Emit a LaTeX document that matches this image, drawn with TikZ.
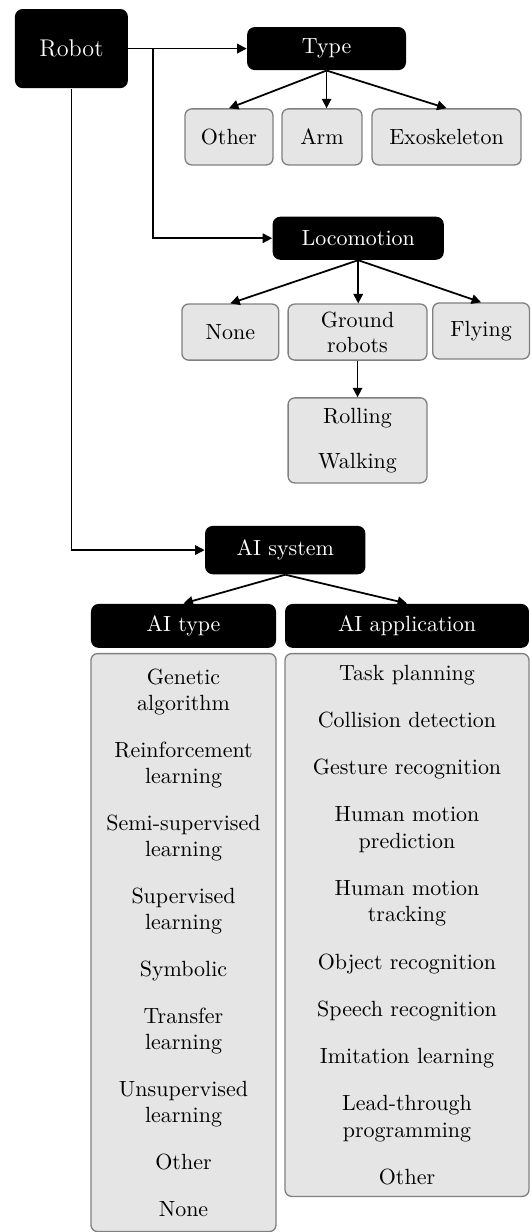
\documentclass[tikz,border=0pt]{standalone}
\usetikzlibrary{arrows.meta}

\tikzset{
  head/.style={fill=black, text=white, rounded corners=3.5pt, inner sep=1pt},
  leaf/.style={fill=gray!20, draw=gray, semithick, rounded corners=3pt,
               align=center, inner sep=1pt},
  link/.style={-{Triangle[length=4.3pt,width=4.3pt]}, thick},
}

\begin{document}
\begin{tikzpicture}[x=1pt,y=-1pt]
\useasboundingbox (0,0) rectangle (241.6,560.6);

\node[head, minimum width=51.4pt, minimum height=36pt] (robot) at (32.5,22.1)
     {\fontsize{11}{13}\selectfont Robot};
\node[head, minimum width=72.3pt, minimum height=19.6pt] (type) at (148.6,22.1) {Type};
\node[leaf, minimum width=40pt, minimum height=25.5pt] (other) at (104.2,62.3) {Other};
\node[leaf, minimum width=36.4pt, minimum height=25.5pt] (arm) at (146.5,62.3) {Arm};
\node[leaf, minimum width=67.8pt, minimum height=25.5pt] (exo) at (203.2,62.3) {Exoskeleton};

\node[head, minimum width=77.9pt, minimum height=19.6pt] (loco) at (163.0,108.4) {Locomotion};
\node[leaf, minimum width=44pt, minimum height=25.5pt] (none) at (104.8,151.1) {None};
\node[leaf, minimum width=63.2pt, minimum height=25.5pt] (ground) at (162.7,151.1)
     {Ground\\[-0.6pt]robots};
\node[leaf, minimum width=44pt, minimum height=25.5pt] (flying) at (218.9,150.6) {Flying};
\node[leaf, minimum width=63.2pt, minimum height=38.7pt] (rolling) at (162.7,200.4)
     {Rolling\\[8.5pt]Walking};

\node[head, minimum width=73pt, minimum height=22pt] (aisys) at (129.8,250.3) {AI system};
\node[head, minimum width=84.2pt, minimum height=20pt] (aitype) at (83.5,284.8) {AI type};
\node[head, minimum width=111pt, minimum height=20pt] (aiapp) at (185.2,284.8) {AI application};

\node[leaf, anchor=north, minimum width=84.2pt, minimum height=263pt] (typelist) at (83.5,297.1)
     {Genetic\\algorithm\\[9.25pt]
      Reinforcement\\learning\\[9.25pt]
      Semi-supervised\\learning\\[9.25pt]
      Supervised\\learning\\[9.25pt]
      Symbolic\\[9.25pt]
      Transfer\\learning\\[9.25pt]
      Unsupervised\\learning\\[9.25pt]
      Other\\[9.25pt]
      None};
\node[leaf, anchor=north, minimum width=111pt, minimum height=247pt] (applist) at (185.2,297.1)
     {Task planning\\[9.5pt]
      Collision detection\\[9.5pt]
      Gesture recognition\\[9.5pt]
      Human motion\\prediction\\[9.5pt]
      Human motion\\tracking\\[9.5pt]
      Object recognition\\[9.5pt]
      Speech recognition\\[9.5pt]
      Imitation learning\\[9.5pt]
      Lead-through\\programming\\[9.5pt]
      Other};

\coordinate (split) at (69.6,22.1);

\path[link] (robot.east) edge (type.west);
\draw[link] (split) |- (loco.west);
\draw[link] (robot.south) |- (aisys.west);

\path[link] (type.south) edge (other.north);
\path[link] (type.south) edge (type.south |- arm.north);
\path[link] (type.south) edge (exo.north);

\path[link] (loco.south) edge (none.north);
\path[link] (loco.south) edge (loco.south |- ground.north);
\path[link] (loco.south) edge (flying.north);
\path[link] (ground.south) edge (rolling.north);

\path[link] (aisys.south) edge (aitype.north);
\path[link] (aisys.south) edge (aiapp.north);
\end{tikzpicture}
\end{document}
